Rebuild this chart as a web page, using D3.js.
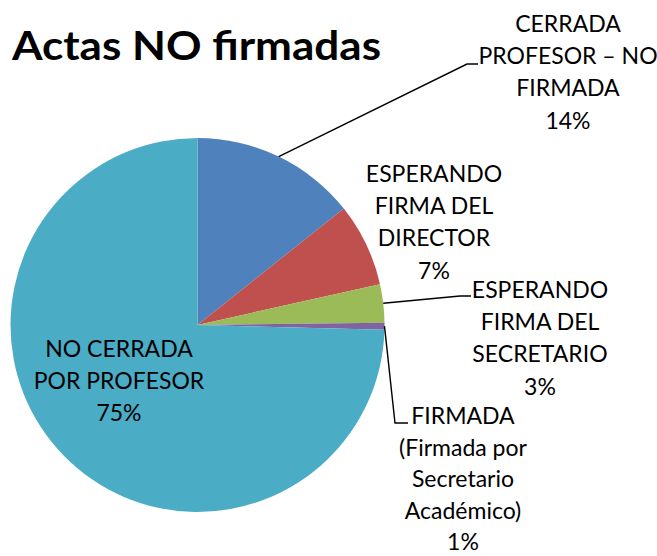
<!DOCTYPE html>
<html>
<head>
<meta charset="utf-8">
<script src="https://cdn.jsdelivr.net/npm/d3@7.9.0/dist/d3.min.js"></script>
<style>
  html, body { margin: 0; padding: 0; background: #fff; }
  svg { display: block; font-family: Lato, "Open Sans", sans-serif; }
</style>
</head>
<body>
<svg id="chart" width="657" height="556"></svg>
<script>
// data
const categories = [
  "CERRADA PROFESOR – NO FIRMADA",
  "ESPERANDO FIRMA DEL DIRECTOR",
  "ESPERANDO FIRMA DEL SECRETARIO",
  "FIRMADA (Firmada por Secretario Académico)",
  "NO CERRADA POR PROFESOR"
];
const labelLines = [
  ["CERRADA", "PROFESOR – NO", "FIRMADA"],
  ["ESPERANDO", "FIRMA DEL", "DIRECTOR"],
  ["ESPERANDO", "FIRMA DEL", "SECRETARIO"],
  ["FIRMADA", "(Firmada por", "Secretario", "Académico)"],
  ["NO CERRADA", "POR PROFESOR"]
];
const values = [14.3, 7.2, 3.3, 0.6, 74.6];
const colors = ["#4F81BD", "#C0504D", "#9BBB59", "#8064A2", "#4BACC6"];

// label layout (centre x, first baseline, line step, leader elbow + end)
const labelPos = [
  { x: 568, y: 32, step: 32.2, elbow: [467, 64], end: [478, 64] },
  { x: 434, y: 182, step: 32.2 },
  { x: 540, y: 298, step: 32.2, elbow: [460, 296], end: [471, 296] },
  { x: 463, y: 424, step: 31.6, elbow: [395, 423], end: [408, 423] },
  { x: 119, y: 357, step: 32.2 }
];

const svg = d3.select('#chart');
const cx = 197.5, cy = 325, radius = 187;

svg.append('text')
  .attr('x', 12)
  .attr('y', 60)
  .attr('font-size', 41)
  .attr('font-weight', 'bold')
  .attr('fill', '#000')
  .attr('textLength', 369)
  .attr('lengthAdjust', 'spacingAndGlyphs')
  .text('Actas NO firmadas');

const data = categories.map((c, i) => ({ label: c, value: values[i], lines: labelLines[i] }));
const total = d3.sum(values);
const pct = d3.format('.0%');

const pie = d3.pie().sort(null).value(d => d.value);
const arc = d3.arc().innerRadius(0).outerRadius(radius);
const arcs = pie(data);

const g = svg.append('g').attr('transform', `translate(${cx},${cy})`);
g.selectAll('path')
  .data(arcs)
  .join('path')
  .attr('d', arc)
  .attr('fill', (d, i) => colors[i]);

// leader lines
arcs.forEach((d, i) => {
  const p = labelPos[i];
  if (!p.elbow) return;
  const a = (d.startAngle + d.endAngle) / 2;
  const start = [cx + Math.sin(a) * radius, cy - Math.cos(a) * radius];
  svg.append('polyline')
    .attr('points', [start, p.elbow, p.end].map(q => q.join(',')).join(' '))
    .attr('fill', 'none')
    .attr('stroke', '#000')
    .attr('stroke-width', 1.4);
});

// labels
arcs.forEach((d, i) => {
  const p = labelPos[i];
  const lines = d.data.lines.concat([pct(d.data.value / total)]);
  const t = svg.append('text')
    .attr('text-anchor', 'middle')
    .attr('font-size', 23)
    .attr('fill', '#000');
  lines.forEach((ln, j) => {
    t.append('tspan').attr('x', p.x).attr('y', p.y + j * p.step).text(ln);
  });
});
</script>
</body>
</html>
